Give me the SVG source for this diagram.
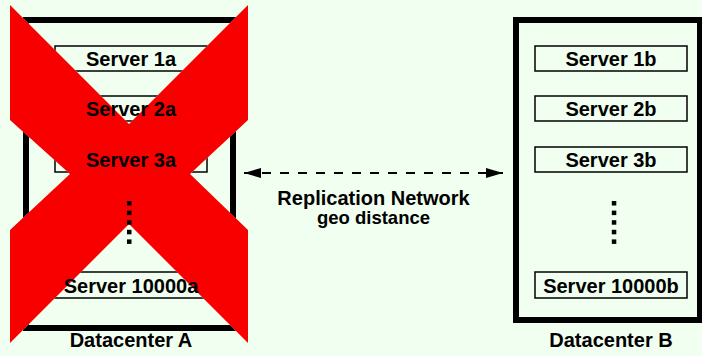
<svg xmlns="http://www.w3.org/2000/svg" xmlns:xlink="http://www.w3.org/1999/xlink" width="702" height="356" viewBox="0 0 702 356">
<style>
.bg{fill:#f0fff0}
.dc{fill:none;stroke:#000;stroke-width:6}
.srv{fill:none;stroke:#000;stroke-width:1.5}
.t{font-family:"Liberation Sans",Arial,Helvetica,sans-serif;font-weight:bold;font-size:20px;fill:#000;text-anchor:middle}
.t2{font-size:18.5px}
.dot{fill:#000}
.conn{stroke:#000;stroke-width:2;stroke-dasharray:9 9;fill:none}
</style>
<defs>
<polygon id="xshape" points="10,5 129,124 248,5 248,120 190,174 248,230 248,343 129,224 10,343 10,230 70,174 10,120"/>
<mask id="notX" maskUnits="userSpaceOnUse" x="0" y="0" width="702" height="356">
<rect width="702" height="356" fill="#fff"/>
<use xlink:href="#xshape" fill="#000"/>
</mask>
<marker id="ah" viewBox="0 0 17 10" refX="17" refY="5" markerWidth="17" markerHeight="10" markerUnits="userSpaceOnUse" orient="auto-start-reverse">
<path d="M0,0 L17,5 L0,10 Z" fill="#000"/>
</marker>
</defs>
<rect class="bg" width="702" height="356"/>
<g id="failure-x">
<use xlink:href="#xshape" fill="#f80000"/>
</g>
<g id="datacenter-a">
<rect class="dc" x="26" y="20" width="207" height="308" mask="url(#notX)"/>
<text class="t" x="131" y="347">Datacenter A</text>
</g>
<g id="server-1a"><rect class="srv" x="55" y="46" width="152" height="25" mask="url(#notX)"/><text class="t" x="131" y="66">Server 1a</text></g>
<g id="server-2a"><rect class="srv" x="55" y="96" width="152" height="25" mask="url(#notX)"/><text class="t" x="131" y="116">Server 2a</text></g>
<g id="server-3a"><rect class="srv" x="55" y="147" width="152" height="25" mask="url(#notX)"/><text class="t" x="131" y="167">Server 3a</text></g>
<g id="dots-a">
<rect class="dot" x="127" y="201" width="4.5" height="4.5"/>
<rect class="dot" x="127" y="210.6" width="4.5" height="4.5"/>
<rect class="dot" x="127" y="220.2" width="4.5" height="4.5"/>
<rect class="dot" x="127" y="229.8" width="4.5" height="4.5"/>
<rect class="dot" x="127" y="239.4" width="4.5" height="4.5"/>
</g>
<g id="server-10000a"><rect class="srv" x="55" y="272" width="152" height="26" mask="url(#notX)"/><text class="t" x="131" y="293">Server 10000a</text></g>
<g id="datacenter-b">
<rect class="dc" x="516" y="20" width="184" height="300"/>
<text class="t" x="611" y="347">Datacenter B</text>
</g>
<g id="server-1b"><rect class="srv" x="535" y="46" width="152" height="25"/><text class="t" x="611" y="66">Server 1b</text></g>
<g id="server-2b"><rect class="srv" x="535" y="96" width="152" height="25"/><text class="t" x="611" y="116">Server 2b</text></g>
<g id="server-3b"><rect class="srv" x="535" y="147" width="152" height="25"/><text class="t" x="611" y="167">Server 3b</text></g>
<g id="dots-b">
<rect class="dot" x="611.8" y="201" width="4.5" height="4.5"/>
<rect class="dot" x="611.8" y="210.6" width="4.5" height="4.5"/>
<rect class="dot" x="611.8" y="220.2" width="4.5" height="4.5"/>
<rect class="dot" x="611.8" y="229.8" width="4.5" height="4.5"/>
<rect class="dot" x="611.8" y="239.4" width="4.5" height="4.5"/>
</g>
<g id="server-10000b"><rect class="srv" x="535" y="272" width="152" height="26"/><text class="t" x="611" y="293">Server 10000b</text></g>
<g id="connectors">
<line class="conn" x1="244" y1="173" x2="503" y2="173" marker-start="url(#ah)" marker-end="url(#ah)"/>
<text class="t" x="373.5" y="205">Replication Network</text>
<text class="t t2" x="373.5" y="224">geo distance</text>
</g>
</svg>
